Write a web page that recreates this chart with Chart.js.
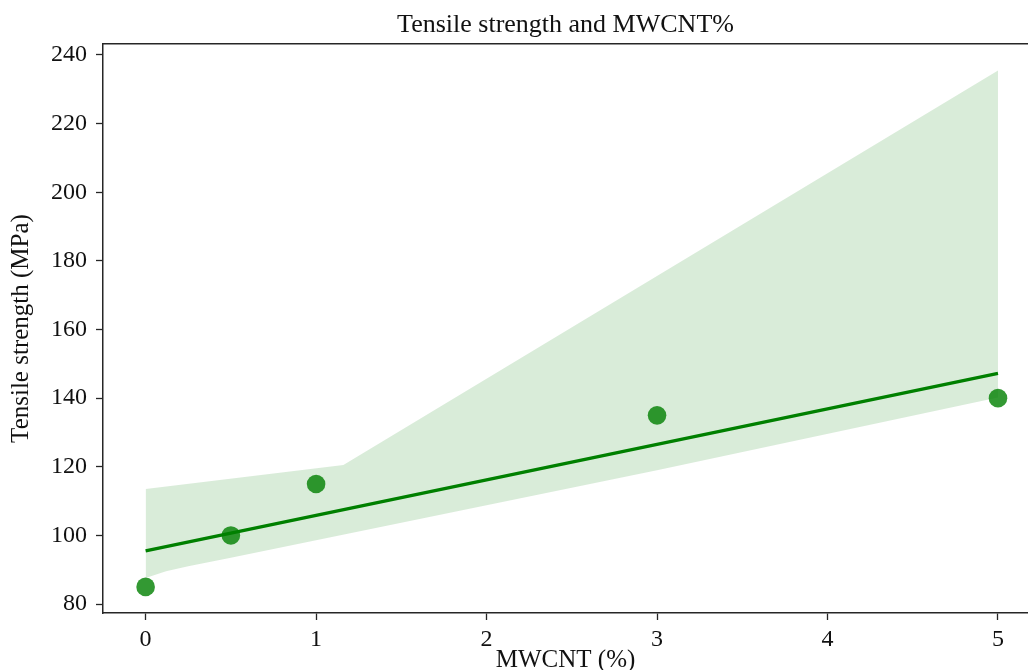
<!DOCTYPE html>
<html>
<head>
<meta charset="utf-8">
<title>Tensile strength and MWCNT%</title>
<script src="https://cdn.jsdelivr.net/npm/chart.js@4.4.1/dist/chart.umd.min.js"></script>
<style>
  html, body { margin: 0; padding: 0; background: #fff; overflow: hidden; }
  canvas { display: block; }
</style>
</head>
<body>
<canvas id="myChart" width="1028" height="670"></canvas>
<script>
// measured samples
const mwcnt = [0, 0.5, 1, 3, 5];
const tensile = [85, 100, 115, 135, 140];

// regression line
const fitX = [0, 5];
const fitY = [95.5, 147.2];

// confidence band edges
const upperX = [0, 1.16, 5];
const upperY = [113.5, 120.5, 235.5];
const lowerX = [0, 0.12, 0.25, 0.5, 3, 5];
const lowerY = [87.6, 89.6, 91, 93.5, 119, 140.2];

const xTicks = [0, 1, 2, 3, 4, 5];
const yTicks = [80, 100, 120, 140, 160, 180, 200, 220, 240];

const toXY = (xs, ys) => xs.map((x, i) => ({ x: x, y: ys[i] }));

const ink = '#111111';
const spine = '#262626';

Chart.defaults.font.family = '"Liberation Serif", "Times New Roman", serif';
Chart.defaults.color = ink;

const ctx = document.getElementById('myChart').getContext('2d');
new Chart(ctx, {
  type: 'line',
  data: {
    datasets: [
      {
        label: 'Tensile strength',
        data: toXY(mwcnt, tensile),
        showLine: false,
        pointRadius: 9.3,
        pointBorderWidth: 0,
        pointBackgroundColor: 'rgba(0, 128, 0, 0.8)',
        order: 0,
      },
      {
        label: 'fit',
        data: toXY(fitX, fitY),
        borderColor: '#008000',
        borderWidth: 3.4,
        pointRadius: 0,
        fill: false,
        order: 1,
      },
      {
        label: 'ci upper',
        data: toXY(upperX, upperY),
        borderWidth: 0,
        borderColor: 'rgba(0,0,0,0)',
        pointRadius: 0,
        fill: '+1',
        backgroundColor: 'rgba(0, 128, 0, 0.15)',
        order: 2,
      },
      {
        label: 'ci lower',
        data: toXY(lowerX, lowerY),
        borderWidth: 0,
        borderColor: 'rgba(0,0,0,0)',
        pointRadius: 0,
        fill: false,
        order: 3,
      },
    ],
  },
  options: {
    responsive: false,
    animation: false,
    events: [],
    layout: { padding: 0, autoPadding: false },
    plugins: {
      legend: { display: false },
      tooltip: { enabled: false },
      title: {
        display: true,
        text: 'Tensile strength and MWCNT%',
        fullSize: false,
        color: ink,
        font: { size: 26, weight: 'normal', lineHeight: 1.2 },
        padding: { top: 10, bottom: 2.8 },
      },
    },
    scales: {
      x: {
        type: 'linear',
        position: 'bottom',
        min: -0.25,
        max: 5.176,
        afterBuildTicks: (s) => { s.ticks = xTicks.map((v) => ({ value: v })); },
        afterFit: (s) => { s.height = 57; s.paddingLeft = 0; s.paddingRight = 0; },
        ticks: { font: { size: 24 }, padding: 5, color: ink, maxRotation: 0 },
        grid: { drawOnChartArea: false, drawTicks: true, tickLength: 7, tickColor: spine, tickWidth: 1.3 },
        border: { display: true, color: spine, width: 1.5 },
        title: {
          display: true,
          text: 'MWCNT (%)',
          color: ink,
          font: { size: 25, lineHeight: 1 },
          padding: { top: 0, bottom: -3 },
        },
      },
      xTop: {
        type: 'linear',
        position: 'top',
        min: -0.25,
        max: 5.176,
        afterFit: (s) => { s.height = 0; s.paddingLeft = 0; s.paddingRight = 0; },
        ticks: { display: false },
        grid: { display: false },
        border: { display: true, color: spine, width: 1.5 },
      },
      y: {
        type: 'linear',
        position: 'left',
        min: 77.4,
        max: 243.2,
        afterBuildTicks: (s) => { s.ticks = yTicks.map((v) => ({ value: v })); },
        afterFit: (s) => { s.width = 103; s.paddingTop = 0; s.paddingBottom = 0; },
        ticks: { font: { size: 24 }, padding: 9, color: ink },
        grid: { drawOnChartArea: false, drawTicks: true, tickLength: 7, tickColor: spine, tickWidth: 1.3 },
        border: { display: true, color: spine, width: 1.5 },
        title: {
          display: true,
          text: 'Tensile strength (MPa)',
          color: ink,
          font: { size: 25, lineHeight: 1.2 },
          padding: { top: 6, bottom: 0 },
        },
      },
    },
  },
});
</script>
</body>
</html>
